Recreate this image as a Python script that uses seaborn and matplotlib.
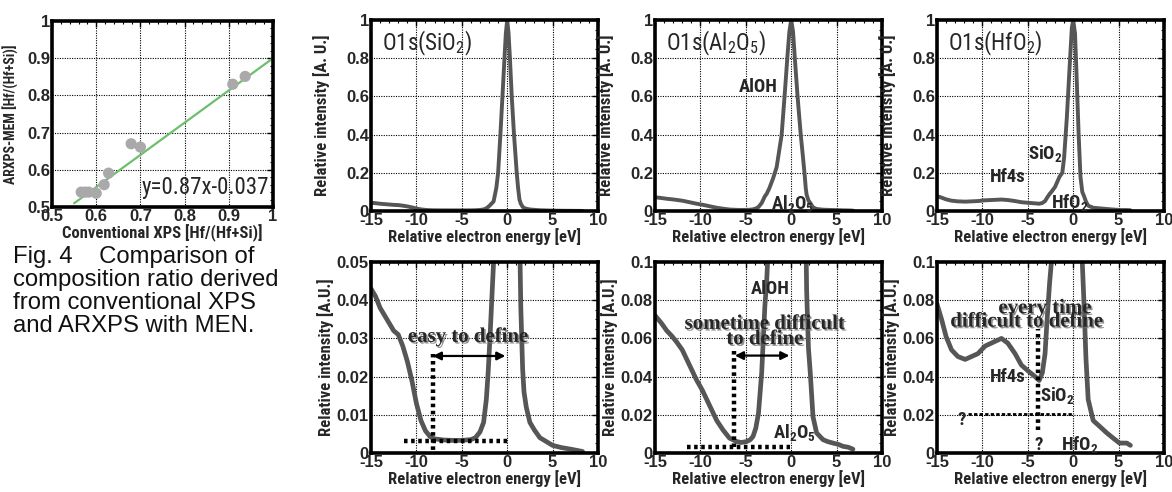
import matplotlib
matplotlib.use("Agg")
import numpy as np
import pandas as pd
import matplotlib.pyplot as plt
import matplotlib.patheffects as pe
import seaborn as sns
from matplotlib import font_manager
from matplotlib.ticker import MultipleLocator, FuncFormatter

sns.set_theme(style="white")
plt.rcParams['font.family'] = ['Liberation Sans', 'DejaVu Sans']
plt.rcParams['mathtext.default'] = 'regular'
plt.rcParams['axes.unicode_minus'] = False

_fonts = font_manager.fontManager.ttflist
_names = {f.name for f in _fonts}


def pick_narrow():
    for n in ["Liberation Sans Narrow", "Roboto Condensed", "Open Sans Condensed",
              "Noto Sans Condensed", "DejaVu Sans Condensed"]:
        if n in _names:
            return dict(fontfamily=n)
    for f in _fonts:
        low = f.name.lower()
        if ("narrow" in low or "condensed" in low) and "mono" not in low and "serif" not in low:
            return dict(fontfamily=f.name)
    for fam in ["Liberation Sans", "Roboto", "Noto Sans", "DejaVu Sans", "Open Sans"]:
        for f in _fonts:
            if f.name == fam and str(f.stretch) in ("condensed", "semi-condensed", "extra-condensed"):
                return dict(fontfamily=fam, fontstretch="condensed")
    return dict(fontfamily="DejaVu Sans")


NKW = pick_narrow()
SERIF = "Liberation Serif" if "Liberation Serif" in _names else "DejaVu Serif"

# ---------------- data ----------------
conv_xps = [0.566, 0.575, 0.583, 0.600, 0.618, 0.628, 0.679, 0.700, 0.909, 0.937]
arxps_mem = [0.540, 0.540, 0.540, 0.537, 0.560, 0.591, 0.670, 0.661, 0.830, 0.851]
fit_x = [0.55, 1.0]
fit_y = [0.51, 0.90]

sio2_energy = [-15, -14.5, -14, -13.5, -13, -12.5, -12, -11.5, -11, -10.5, -10, -9.5, -9, -8.5, -8,
               -7, -6, -5, -4, -3.5, -3, -2.6, -2.3, -2.1, -1.9, -1.7, -1.5, -1.2, -1.0, -0.75, -0.5,
               -0.3, -0.15, 0, 0.15, 0.3, 0.5, 0.75, 1.05, 1.2, 1.35, 1.5, 1.7, 1.85, 2.1, 2.5, 3,
               3.6, 4.3, 5, 6, 7, 8.3]
sio2_intensity = [0.043, 0.041, 0.038, 0.036, 0.034, 0.032, 0.031, 0.028, 0.024, 0.019, 0.013, 0.0085,
                  0.0058, 0.0043, 0.0037, 0.0034, 0.0033, 0.0033, 0.0035, 0.004, 0.0055, 0.008, 0.014,
                  0.021, 0.030, 0.040, 0.05, 0.12, 0.2, 0.4, 0.62, 0.8, 0.93, 1.0, 0.93, 0.8, 0.6, 0.4,
                  0.2, 0.12, 0.06, 0.038, 0.022, 0.016, 0.012, 0.008, 0.006, 0.004, 0.003, 0.002,
                  0.0014, 0.001, 0.0004]

al_energy = [-15, -14.3, -13.7, -13.1, -12.6, -12, -11.5, -11, -10.4, -9.8, -9.3, -8.7, -8.2, -7.5,
             -6.8, -6.0, -5.5, -4.9, -4.5, -4.2, -3.9, -3.6, -3.25, -2.9, -2.7, -2.4, -2.0, -1.6,
             -1.05, -0.7, -0.4, -0.2, 0, 0.2, 0.4, 0.7, 1.05, 1.3, 1.5, 1.6, 1.7, 1.9, 2.1, 2.4,
             2.8, 3.5, 4.0, 4.6, 5.2, 5.7, 6.3, 6.8]
al_intensity = [0.072, 0.068, 0.064, 0.061, 0.058, 0.054, 0.049, 0.044, 0.038, 0.033, 0.028, 0.022,
                0.017, 0.012, 0.0078, 0.006, 0.0055, 0.006, 0.007, 0.0087, 0.013, 0.021, 0.042,
                0.077, 0.09, 0.12, 0.17, 0.23, 0.4, 0.62, 0.82, 0.94, 1.0, 0.94, 0.8, 0.6, 0.4,
                0.28, 0.18, 0.12, 0.085, 0.055, 0.042, 0.019, 0.0105, 0.007, 0.006, 0.0052,
                0.0045, 0.0035, 0.003, 0.002]

hf_energy = [-15, -14.5, -14, -13.4, -12.7, -11.9, -11.2, -10.5, -9.7, -8.8, -7.9, -7.2, -6.4, -5.7,
             -4.9, -4.2, -3.75, -3.4, -3.1, -2.9, -2.6, -2.4, -2.0, -1.5, -1.2, -1.0, -0.7, -0.4,
             -0.15, 0, 0.2, 0.4, 0.6, 0.8, 1.0, 1.2, 1.4, 1.65, 2.2, 2.9, 3.7, 4.4, 5.1, 5.9, 6.3]
hf_intensity = [0.078, 0.07, 0.061, 0.054, 0.0505, 0.049, 0.0505, 0.052, 0.056, 0.058, 0.060, 0.0575,
                0.052, 0.046, 0.0427, 0.040, 0.038, 0.042, 0.052, 0.068, 0.089, 0.1, 0.126, 0.18,
                0.2, 0.28, 0.49, 0.75, 0.96, 1.0, 0.93, 0.67, 0.4, 0.18, 0.1, 0.077, 0.05, 0.028,
                0.017, 0.014, 0.0105, 0.0078, 0.0052, 0.0052, 0.004]

# guide lines in the zoomed panels (energy, intensity)
sio2_vguide = ([-8.2, -8.2], [-0.001, 0.026])
sio2_hguide = ([-11.4, 0.15], [0.0032, 0.0032])
sio2_arrow = ([-8.2, -0.2], [0.0254, 0.0254])
al_vguide = ([-6.3, -6.3], [0.003, 0.054])
al_hguide = ([-11.5, -0.1], [0.0031, 0.0031])
al_arrow = ([-6.2, -0.2], [0.051, 0.051])
hf_vguide = ([-3.85, -3.85], [0.012, 0.065])
hf_hguide = ([-11.6, 0.0], [0.0206, 0.0206])

LINE_C = "#565656"
W, H = 1172, 492
fig = plt.figure(figsize=(W / 100, H / 100), dpi=100)


def px_axes(l, t, r, b):
    return fig.add_axes([l / W, 1 - b / H, (r - l) / W, (b - t) / H])


def fmt(v, _):
    return "%g" % round(v, 4)


def style(ax, xlim, ylim, xmaj, ymaj, xmin, ymin, tick_fs=12):
    ax.set_xlim(*xlim)
    ax.set_ylim(*ylim)
    ax.xaxis.set_major_locator(MultipleLocator(xmaj))
    ax.yaxis.set_major_locator(MultipleLocator(ymaj))
    ax.xaxis.set_minor_locator(MultipleLocator(xmin))
    ax.yaxis.set_minor_locator(MultipleLocator(ymin))
    ax.xaxis.set_major_formatter(FuncFormatter(fmt))
    ax.yaxis.set_major_formatter(FuncFormatter(fmt))
    ax.grid(True, which='major', color='black', linestyle=(0, (1, 1.2)), linewidth=0.8)
    ax.tick_params(which='both', direction='in', top=True, right=True, color='black')
    ax.tick_params(which='major', length=4, width=1, pad=1.5, labelsize=tick_fs)
    ax.tick_params(which='minor', length=2, width=0.8)
    for lab in ax.get_xticklabels() + ax.get_yticklabels():
        lab.set_fontweight('bold')
    for s in ax.spines.values():
        s.set_visible(True)
        s.set_color('black')
        s.set_linewidth(2.6)
    ax.set_facecolor('white')


def spectrum(ax, e, i, lw):
    df = pd.DataFrame({"energy": e, "intensity": i})
    sns.lineplot(data=df, x="energy", y="intensity", ax=ax, color=LINE_C, lw=lw,
                 sort=False, estimator=None)


LAB_FS = 12
ANN_FS = 13.5


def labels(ax, ylab="Relative intensity [A. U.]"):
    ax.set_xlabel("Relative electron energy [eV]", fontweight='bold', fontsize=LAB_FS, labelpad=0, **NKW)
    ax.set_ylabel(ylab, fontweight='bold', fontsize=LAB_FS, **NKW)
    ax.yaxis.set_label_coords(-0.18, 0.5)


def ann(ax, x, y, s, **kw):
    ax.text(x, y, s, fontweight='bold', fontsize=ANN_FS, ha='center', va='center', zorder=5, **NKW, **kw)


# ---------------- scatter panel ----------------
ax0 = px_axes(52, 21, 273, 207)
style(ax0, (0.5, 1.0), (0.5, 1.0), 0.1, 0.1, 0.02, 0.02)
sns.lineplot(x=fit_x, y=fit_y, ax=ax0, color="#6dbf6d", lw=1.6)
sns.scatterplot(x=conv_xps, y=arxps_mem, ax=ax0, color="#a9a9a9", s=65, edgecolor='none', zorder=3)
ax0.set_xlabel("Conventional XPS [Hf/(Hf+Si)]", fontweight='bold', fontsize=12, labelpad=0, **NKW)
ax0.set_ylabel("ARXPS-MEM [Hf/(Hf+Si)]", fontweight='bold', fontsize=10, **NKW)
ax0.yaxis.set_label_coords(-0.15, 0.5)
ax0.text(0.846, 0.553, "y=0.87x-0.037", fontsize=16.5, ha='center', va='center', **NKW)

fig.text(13 / W, 1 - 246 / H,
         "Fig. 4    Comparison of\ncomposition ratio derived\nfrom conventional XPS\nand ARXPS with MEN.",
         fontsize=17.2, ha='left', va='top', linespacing=1.06, color='#111111')

# ---------------- top panels ----------------
tops = [(371, 598), (655, 882), (937, 1164)]
titles = ["O1s(SiO$_2$)", "O1s(Al$_2$O$_5$)", "O1s(HfO$_2$)"]
spectra = [(sio2_energy, sio2_intensity), (al_energy, al_intensity), (hf_energy, hf_intensity)]

top_axes = []
for (l, r), ttl, (e, i) in zip(tops, titles, spectra):
    ax = px_axes(l, 20, r, 211)
    style(ax, (-15, 10), (0, 1.0), 5, 0.2, 1, 0.05)
    spectrum(ax, e, i, 2.8)
    labels(ax)
    ax.text(0.05, 0.875, ttl, transform=ax.transAxes, fontsize=16.5, ha='left', va='center', **NKW)
    top_axes.append(ax)

ax = top_axes[1]
ann(ax, -3.6, 0.65, "AlOH")
ann(ax, 0.1, 0.04, "Al$_2$O$_5$")
ax = top_axes[2]
ann(ax, -3.1, 0.30, "SiO$_2$")
ann(ax, -7.2, 0.18, "Hf4s")
ann(ax, -0.4, 0.045, "HfO$_2$")

# ---------------- bottom panels ----------------
ylims = [0.05, 0.1, 0.1]
ymaj = [0.01, 0.02, 0.02]
ymin = [0.0025, 0.005, 0.005]
bot_axes = []
for (l, r), (e, i), yl, ym, yn in zip(tops, spectra, ylims, ymaj, ymin):
    ax = px_axes(l, 262, r, 453)
    style(ax, (-15, 10), (0, yl), 5, ym, 1, yn)
    spectrum(ax, e, i, 3.4)
    labels(ax, "Relative intensity [A.U.]")
    ax.yaxis.set_label_coords(-0.165, 0.5)
    bot_axes.append(ax)

GUIDE = dict(color='black', lw=3.2, linestyle=(0, (0.8, 0.8)), zorder=4)
SHADOW = [pe.withSimplePatchShadow(offset=(1.2, -1.2), shadow_rgbFace='#777777', alpha=0.8)]
SERIF_KW = dict(fontfamily=SERIF, fontweight='bold', fontsize=15, ha='center', va='center', zorder=5,
                path_effects=SHADOW)
ARROW = dict(arrowstyle='<|-|>', color='black', lw=1.6, mutation_scale=12, shrinkA=0, shrinkB=0)

ax = bot_axes[0]
ax.plot(*sio2_vguide, **GUIDE)
ax.plot(*sio2_hguide, **GUIDE)
ax.annotate("", xy=(sio2_arrow[0][1], sio2_arrow[1][1]), xytext=(sio2_arrow[0][0], sio2_arrow[1][0]),
            arrowprops=ARROW)
ax.text(-4.3, 0.0304, "easy to define", **SERIF_KW)

ax = bot_axes[1]
ax.plot(*al_vguide, **GUIDE)
ax.plot(*al_hguide, **GUIDE)
ax.annotate("", xy=(al_arrow[0][1], al_arrow[1][1]), xytext=(al_arrow[0][0], al_arrow[1][0]),
            arrowprops=ARROW)
ax.text(-2.9, 0.0676, "sometime difficult", **SERIF_KW)
ax.text(-2.9, 0.0596, "to define", **SERIF_KW)
ann(ax, -2.3, 0.0857, "AlOH")
ann(ax, 0.4, 0.0105, "Al$_2$O$_5$")

ax = bot_axes[2]
ax.plot(*hf_vguide, **GUIDE)
ax.plot(*hf_hguide, color='black', lw=2.0, linestyle=(0, (1.2, 0.8)), zorder=4)
ax.text(-3.1, 0.0758, "every time", **SERIF_KW)
ax.text(-5.1, 0.0688, "difficult to define", **SERIF_KW)
ann(ax, -12.3, 0.0174, "?")
ann(ax, -3.75, 0.0044, "?")
ann(ax, -7.2, 0.040, "Hf4s")
ann(ax, -1.8, 0.030, "SiO$_2$")
ann(ax, 0.7, 0.0045, "HfO$_2$")

fig.savefig("out.png", dpi=100, facecolor='white')
